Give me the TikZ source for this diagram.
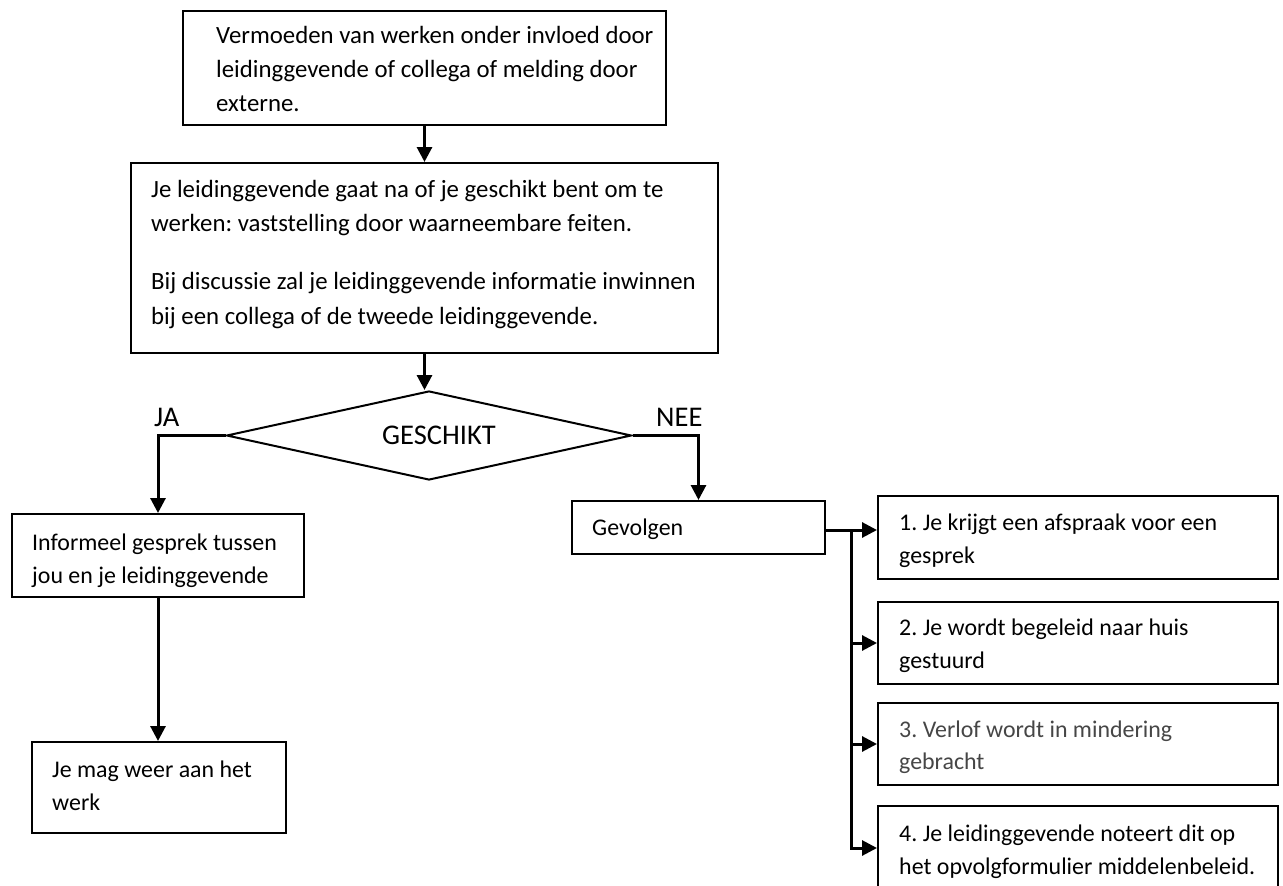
\documentclass[tikz,border=0pt]{standalone}
\usepackage{fontspec}
\setmainfont{Carlito}[Ligatures={NoCommon}]
\usetikzlibrary{shapes.geometric,arrows.meta}
\begin{document}
\frenchspacing
\begin{tikzpicture}[x=1pt,y=-1pt,
  box/.style={draw, line width=2pt, inner sep=0pt},
  txt/.style={anchor=base west, inner sep=0pt, font=\fontsize{23.9}{30}\selectfont},
  bigtxt/.style={anchor=base west, inner sep=0pt, font=\fontsize{24.8}{30}\selectfont},
  lbl/.style={inner sep=0pt, font=\fontsize{28.5}{34}\selectfont},
  graytxt/.style={txt, text={rgb,255:red,70;green,70;blue,70}},
  conn/.style={line width=3pt, -{Triangle[width=15pt,length=15pt]}}]
\useasboundingbox[fill=white] (0,0) rectangle (1283,886);
% boxes
\node[box, minimum width=483pt, minimum height=114pt] (b1) at (424.5,68) {};
\node[box, minimum width=587pt, minimum height=190pt] (b2) at (424.5,258) {};
\node[box, shape=diamond, minimum width=405pt, minimum height=89pt] (dia) at (429,435.5) {};
\node[box, minimum width=292pt, minimum height=83pt] (b3) at (158,555.5) {};
\node[box, minimum width=254pt, minimum height=91pt] (b4) at (159,787.5) {};
\node[box, minimum width=253pt, minimum height=53pt] (gev) at (698.5,527.5) {};
\node[box, minimum width=400pt, minimum height=83pt] (r1) at (1078,537.5) {};
\node[box, minimum width=400pt, minimum height=82pt] (r2) at (1078,643) {};
\node[box, minimum width=400pt, minimum height=82pt] (r3) at (1078,744) {};
\node[box, minimum width=400pt, minimum height=84pt] (r4) at (1078,848) {};
% texts
\node[bigtxt] (t1a) at (216,43) {Vermoeden van werken onder invloed door};
\node[bigtxt] (t1b) at (216,77) {leidinggevende of collega of melding door};
\node[bigtxt] (t1c) at (216,111) {externe.};
\node[bigtxt] (t2a) at (151,197) {Je leidinggevende gaat na of je geschikt bent om te};
\node[bigtxt] (t2b) at (151,231) {werken: vaststelling door waarneembare feiten.};
\node[bigtxt] (t2c) at (151,289) {Bij discussie zal je leidinggevende informatie inwinnen};
\node[bigtxt] (t2d) at (151,324) {bij een collega of de tweede leidinggevende.};
\node[lbl] (geschikt) at (439,435) {GESCHIKT};
\node[lbl, anchor=base west] (ja) at (154,426) {JA};
\node[lbl, anchor=base west] (nee) at (656,426) {NEE};
\node[txt] (t3a) at (32,550) {Informeel gesprek tussen};
\node[txt] (t3b) at (32,583) {jou en je leidinggevende};
\node[txt] (t4a) at (52,777) {Je mag weer aan het};
\node[txt] (t4b) at (52,810) {werk};
\node[txt] (tg) at (592,535) {Gevolgen};
\node[txt] (r1a) at (899,530) {1. Je krijgt een afspraak voor een};
\node[txt] (r1b) at (899,563) {gesprek};
\node[txt] (r2a) at (899,635) {2. Je wordt begeleid naar huis};
\node[txt] (r2b) at (899,668) {gestuurd};
\node[graytxt] (r3a) at (899,737) {3. Verlof wordt in mindering};
\node[graytxt] (r3b) at (899,769) {gebracht};
\node[txt] (r4a) at (899,841) {4. Je leidinggevende noteert dit op};
\node[txt] (r4b) at (899,874) {het opvolgformulier middelenbeleid.};
% connectors
\draw[conn] (b1.south) -- (b2.north);
\draw[conn] (b2.south) -- (b2.south |- dia.north);
\draw[conn] (dia.west) -| (b3.north);
\draw[conn] (dia.east) -| (gev.north);
\draw[conn] (b3.south) -- (b3.south |- b4.north);
\coordinate (sp) at (851,530);
\draw[conn] (gev.east |- sp) -- (sp -| r1.west);
\draw[conn] (sp) |- (r2.west);
\draw[conn] (sp) |- (r3.west);
\draw[conn] (sp) |- (r4.west);
\end{tikzpicture}
\end{document}
